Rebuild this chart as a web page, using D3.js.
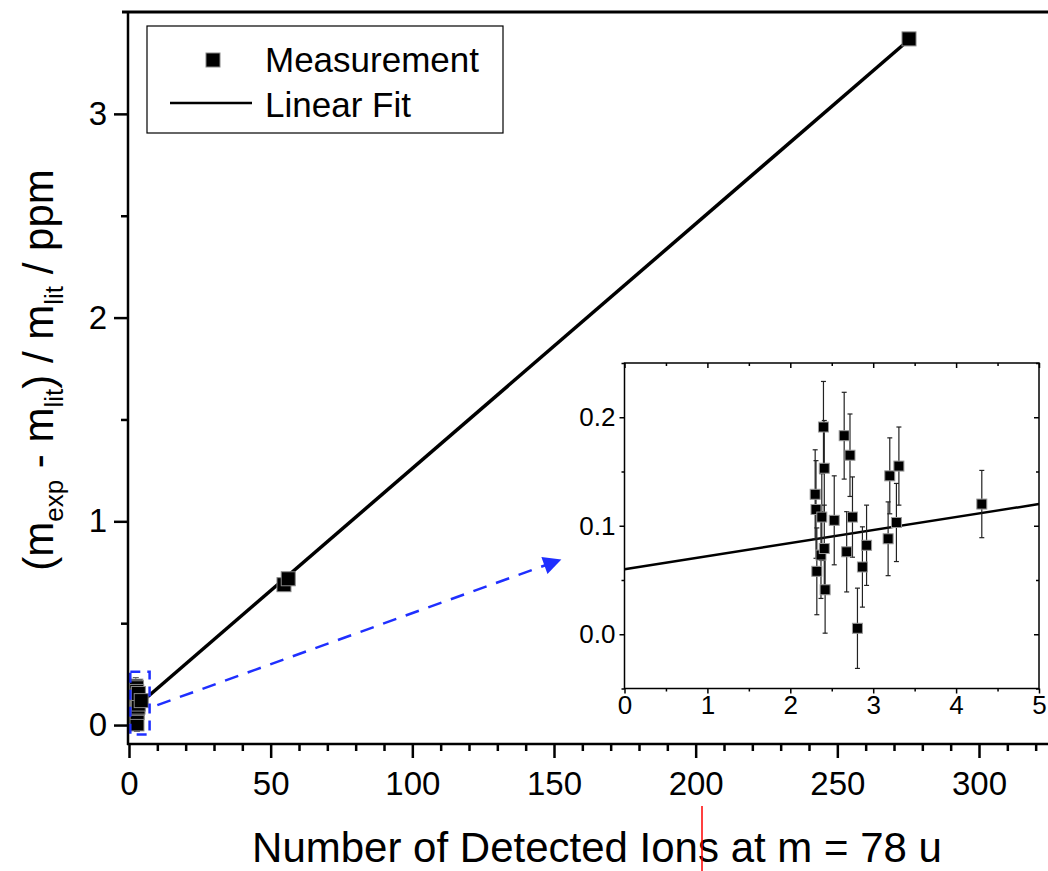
<!DOCTYPE html>
<html lang="en">
<head>
    <meta charset="UTF-8">
    <title>Mass deviation vs detected ions</title>
    <style>
        body {
            margin: 0;
            padding: 0;
            background-color: white;
            font-family: "Liberation Sans", Arial, sans-serif;
        }
        svg text {
            font-family: "Liberation Sans", Arial, sans-serif;
            fill: black;
        }
    </style>
</head>
<body>
    <div id="container"></div>

    <script src="https://d3js.org/d3.v7.min.js"></script>
    <script>
        // Measurements (number of ions, deviation in ppm, error)
        const insetX   = [2.30, 2.31, 2.32, 2.40, 2.41, 2.38, 2.37, 2.41, 2.42, 2.53, 2.65,
                          2.72, 2.68, 2.75, 2.81, 2.87, 2.92, 3.18, 3.20, 3.28, 3.31, 4.31];
        const insetY   = [0.129, 0.115, 0.058, 0.191, 0.153, 0.108, 0.073, 0.079, 0.041, 0.105, 0.183,
                          0.165, 0.076, 0.108, 0.0055, 0.062, 0.082, 0.088, 0.146, 0.103, 0.155, 0.120];
        const insetErr = [0.041, 0.045, 0.040, 0.042, 0.044, 0.040, 0.040, 0.040, 0.040, 0.041, 0.040,
                          0.038, 0.037, 0.037, 0.037, 0.037, 0.037, 0.034, 0.035, 0.036, 0.036, 0.031];

        const bigX   = [54.7, 56.2, 275.3];
        const bigY   = [0.689, 0.718, 3.368];
        const bigErr = [0.02, 0.02, 0.02];

        // linear fit y = a + b*x
        const fitA = 0.060;
        const fitB = 0.012;

        const mainXTicks = [0, 50, 100, 150, 200, 250, 300];
        const mainYTicks = [0, 1, 2, 3];
        const insetXTicks = [0, 1, 2, 3, 4, 5];
        const insetYTicks = [0.0, 0.1, 0.2];

        // zoom box around the cluster and the arrow pointing to the inset (data units)
        const zoomBox = [0.46, 7.27, -0.046, 0.262];
        const arrowFrom = [10, 0.098];
        const arrowTo = [152, 0.81];

        const width = 1048, height = 871;

        const svg = d3.select("#container")
            .append("svg")
            .attr("width", width)
            .attr("height", height);

        const defs = svg.append("defs");
        defs.append("marker")
            .attr("id", "arrowhead")
            .attr("viewBox", "0 0 10 10")
            .attr("refX", 9)
            .attr("refY", 5)
            .attr("markerUnits", "userSpaceOnUse")
            .attr("markerWidth", 28)
            .attr("markerHeight", 18)
            .attr("orient", "auto")
            .append("path")
            .attr("d", "M0,0 L10,5 L0,10 Z")
            .attr("fill", "#1f2fff");

        // Main scales
        const x = d3.scaleLinear().domain([0, 330]).range([129, 1064]);
        const y = d3.scaleLinear().domain([-0.093, 3.5]).range([744, 12]);

        const allX = insetX.concat(bigX);
        const allY = insetY.concat(bigY);
        const allErr = insetErr.concat(bigErr);
        const mainPts = allX.map((d, i) => ({x: d, y: allY[i], e: allErr[i]}));

        // fit line (main)
        const mainFitX = [2.3, 275.3];
        svg.append("path")
            .attr("d", d3.line().x(d => x(d)).y(d => y(fitA + fitB * d))(mainFitX))
            .attr("fill", "none")
            .attr("stroke", "black")
            .attr("stroke-width", 3.5);

        // error bars main
        const mainErrG = svg.append("g").attr("stroke", "#555").attr("stroke-width", 1);
        mainPts.forEach(p => {
            mainErrG.append("line").attr("x1", x(p.x)).attr("x2", x(p.x)).attr("y1", y(p.y - p.e)).attr("y2", y(p.y + p.e));
            mainErrG.append("line").attr("x1", x(p.x) - 3).attr("x2", x(p.x) + 3).attr("y1", y(p.y + p.e)).attr("y2", y(p.y + p.e));
            mainErrG.append("line").attr("x1", x(p.x) - 3).attr("x2", x(p.x) + 3).attr("y1", y(p.y - p.e)).attr("y2", y(p.y - p.e));
        });

        // squares main
        const ms = 14;
        svg.append("g")
            .selectAll("rect")
            .data(mainPts)
            .enter()
            .append("rect")
            .attr("x", d => x(d.x) - ms / 2)
            .attr("y", d => y(d.y) - ms / 2)
            .attr("width", ms)
            .attr("height", ms)
            .attr("fill", "black")
            .attr("stroke", "#888")
            .attr("stroke-width", 1);

        // blue dashed box + arrow
        svg.append("rect")
            .attr("x", x(zoomBox[0]))
            .attr("y", y(zoomBox[3]))
            .attr("width", x(zoomBox[1]) - x(zoomBox[0]))
            .attr("height", y(zoomBox[2]) - y(zoomBox[3]))
            .attr("fill", "none")
            .attr("stroke", "#1f2fff")
            .attr("stroke-width", 2.5)
            .attr("stroke-dasharray", "10,7");

        svg.append("line")
            .attr("x1", x(arrowFrom[0]))
            .attr("y1", y(arrowFrom[1]))
            .attr("x2", x(arrowTo[0]))
            .attr("y2", y(arrowTo[1]))
            .attr("stroke", "#1f2fff")
            .attr("stroke-width", 2.5)
            .attr("stroke-dasharray", "14,10")
            .attr("marker-end", "url(#arrowhead)");

        // Main axes
        const xMinor = d3.range(0, 330, 10).filter(v => v % 50 !== 0);
        const yMinor = [0.5, 1.5, 2.5];

        function styleAxis(g, sw) {
            g.selectAll(".domain").remove();
            g.selectAll("line").attr("stroke", "black").attr("stroke-width", sw);
        }

        const gx = svg.append("g")
            .attr("transform", "translate(0,744)")
            .call(d3.axisBottom(x).tickValues(mainXTicks).tickSize(14).tickPadding(14).tickFormat(d3.format("d")));
        styleAxis(gx, 2.5);
        gx.selectAll("text").style("font-size", "33px");

        const gxm = svg.append("g")
            .attr("transform", "translate(0,744)")
            .call(d3.axisBottom(x).tickValues(xMinor).tickSize(7).tickFormat(""));
        styleAxis(gxm, 2.5);

        const gy = svg.append("g")
            .attr("transform", "translate(128,0)")
            .call(d3.axisLeft(y).tickValues(mainYTicks).tickSize(14).tickPadding(7).tickFormat(d3.format("d")));
        styleAxis(gy, 2.5);
        gy.selectAll("text").style("font-size", "33px");

        const gym = svg.append("g")
            .attr("transform", "translate(128,0)")
            .call(d3.axisLeft(y).tickValues(yMinor).tickSize(7).tickFormat(""));
        styleAxis(gym, 2.5);

        // frame lines
        svg.append("line").attr("x1", 128).attr("x2", 128).attr("y1", 12).attr("y2", 745)
            .attr("stroke", "black").attr("stroke-width", 2.5);
        svg.append("line").attr("x1", 122).attr("x2", width).attr("y1", 12).attr("y2", 12)
            .attr("stroke", "black").attr("stroke-width", 3);
        svg.append("line").attr("x1", 127).attr("x2", width).attr("y1", 744).attr("y2", 744)
            .attr("stroke", "black").attr("stroke-width", 2.5);

        // Axis titles
        svg.append("text")
            .attr("x", 597)
            .attr("y", 862)
            .attr("text-anchor", "middle")
            .style("font-size", "42px")
            .text("Number of Detected Ions at m = 78 u");

        const yTitle = svg.append("text")
            .attr("transform", "translate(53,370) rotate(-90)")
            .attr("text-anchor", "middle")
            .style("font-size", "42px");
        yTitle.append("tspan").text("(m");
        yTitle.append("tspan").attr("dy", 10).style("font-size", "26px").text("exp");
        yTitle.append("tspan").attr("dy", -10).text(" - m");
        yTitle.append("tspan").attr("dy", 10).style("font-size", "26px").text("lit");
        yTitle.append("tspan").attr("dy", -10).text(") / m");
        yTitle.append("tspan").attr("dy", 10).style("font-size", "26px").text("lit");
        yTitle.append("tspan").attr("dy", -10).text(" / ppm");

        // Legend
        const legend = svg.append("g");
        legend.append("rect")
            .attr("x", 147).attr("y", 26).attr("width", 356).attr("height", 107)
            .attr("fill", "white").attr("stroke", "black").attr("stroke-width", 1.2);
        legend.append("rect")
            .attr("x", 206).attr("y", 53).attr("width", 14).attr("height", 14)
            .attr("fill", "black").attr("stroke", "#888").attr("stroke-width", 1);
        legend.append("text").attr("x", 265).attr("y", 72).style("font-size", "35px").text("Measurement");
        legend.append("line").attr("x1", 170).attr("x2", 252).attr("y1", 103).attr("y2", 103)
            .attr("stroke", "black").attr("stroke-width", 2.5);
        legend.append("text").attr("x", 265).attr("y", 117).style("font-size", "35px").text("Linear Fit");

        // Inset
        const ix = d3.scaleLinear().domain([0, 5]).range([624.5, 1039]);
        const iy = d3.scaleLinear().domain([-0.05, 0.25]).range([688.5, 363]);
        const inset = svg.append("g");

        inset.append("rect")
            .attr("x", ix(0)).attr("y", iy(0.25))
            .attr("width", ix(5) - ix(0)).attr("height", iy(-0.05) - iy(0.25))
            .attr("fill", "white");

        inset.append("path")
            .attr("d", d3.line().x(d => ix(d)).y(d => iy(fitA + fitB * d))([0, 5]))
            .attr("fill", "none")
            .attr("stroke", "black")
            .attr("stroke-width", 2.5);

        const insetPts = insetX.map((d, i) => ({x: d, y: insetY[i], e: insetErr[i]}));
        const ierr = inset.append("g").attr("stroke", "#222").attr("stroke-width", 1.2);
        insetPts.forEach(p => {
            ierr.append("line").attr("x1", ix(p.x)).attr("x2", ix(p.x)).attr("y1", iy(p.y - p.e)).attr("y2", iy(p.y + p.e));
            ierr.append("line").attr("x1", ix(p.x) - 2.5).attr("x2", ix(p.x) + 2.5).attr("y1", iy(p.y + p.e)).attr("y2", iy(p.y + p.e));
            ierr.append("line").attr("x1", ix(p.x) - 2.5).attr("x2", ix(p.x) + 2.5).attr("y1", iy(p.y - p.e)).attr("y2", iy(p.y - p.e));
        });

        const is = 10;
        inset.append("g")
            .selectAll("rect")
            .data(insetPts)
            .enter()
            .append("rect")
            .attr("x", d => ix(d.x) - is / 2)
            .attr("y", d => iy(d.y) - is / 2)
            .attr("width", is)
            .attr("height", is)
            .attr("fill", "black")
            .attr("stroke", "#999")
            .attr("stroke-width", 1);

        const ixMinor = [0.5, 1.5, 2.5, 3.5, 4.5];
        const iyMinor = [-0.05, 0.05, 0.15, 0.25];

        const igx = inset.append("g").attr("transform", `translate(0,${iy(-0.05)})`)
            .call(d3.axisBottom(ix).tickValues(insetXTicks).tickSize(5).tickPadding(2).tickFormat(d3.format("d")));
        styleAxis(igx, 1.5);
        igx.selectAll("text").style("font-size", "26px");
        styleAxis(inset.append("g").attr("transform", `translate(0,${iy(-0.05)})`)
            .call(d3.axisBottom(ix).tickValues(ixMinor).tickSize(3).tickFormat("")), 1.5);

        const igy = inset.append("g").attr("transform", `translate(${ix(0)},0)`)
            .call(d3.axisLeft(iy).tickValues(insetYTicks).tickSize(5).tickPadding(4).tickFormat(d3.format(".1f")));
        styleAxis(igy, 1.5);
        igy.selectAll("text").style("font-size", "26px");
        styleAxis(inset.append("g").attr("transform", `translate(${ix(0)},0)`)
            .call(d3.axisLeft(iy).tickValues(iyMinor).tickSize(3).tickFormat("")), 1.5);

        // inner ticks on top and right
        styleAxis(inset.append("g").attr("transform", `translate(0,${iy(0.25)})`)
            .call(d3.axisBottom(ix).tickValues(insetXTicks).tickSize(5).tickFormat("")), 1.5);
        styleAxis(inset.append("g").attr("transform", `translate(0,${iy(0.25)})`)
            .call(d3.axisBottom(ix).tickValues(ixMinor).tickSize(3).tickFormat("")), 1.5);
        styleAxis(inset.append("g").attr("transform", `translate(${ix(5)},0)`)
            .call(d3.axisLeft(iy).tickValues(insetYTicks).tickSize(5).tickFormat("")), 1.5);
        styleAxis(inset.append("g").attr("transform", `translate(${ix(5)},0)`)
            .call(d3.axisLeft(iy).tickValues(iyMinor).tickSize(3).tickFormat("")), 1.5);

        inset.append("rect")
            .attr("x", ix(0)).attr("y", iy(0.25))
            .attr("width", ix(5) - ix(0)).attr("height", iy(-0.05) - iy(0.25))
            .attr("fill", "none")
            .attr("stroke", "black")
            .attr("stroke-width", 1.5);

        // red marker line near the x title
        svg.append("line")
            .attr("x1", 702).attr("x2", 702).attr("y1", 806).attr("y2", height)
            .attr("stroke", "red").attr("stroke-width", 1.5);
    </script>
</body>
</html>
